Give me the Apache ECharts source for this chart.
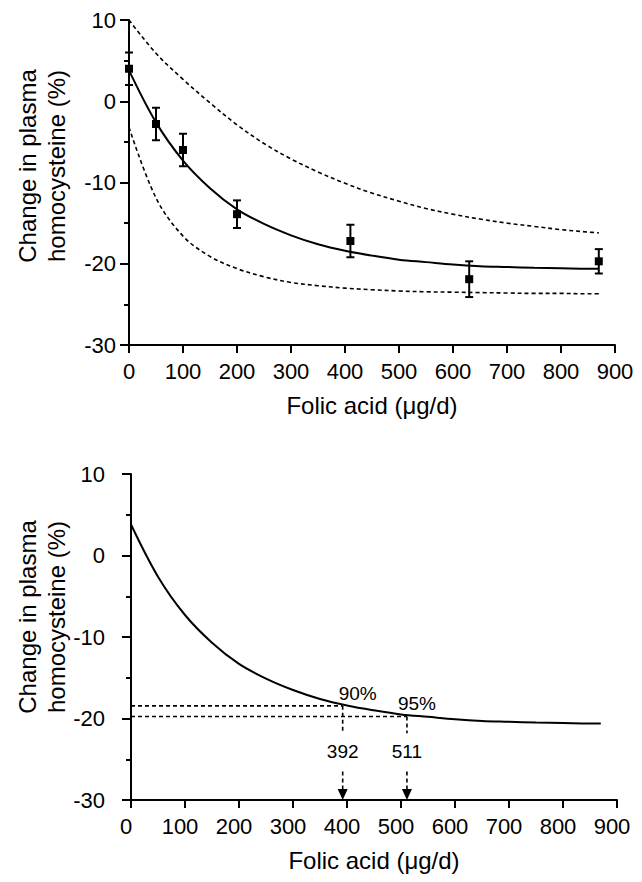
<!DOCTYPE html>
<html>
<head>
<meta charset="utf-8">
<script src="https://cdn.jsdelivr.net/npm/echarts@6/dist/echarts.min.js"></script>
<style>
  html, body { margin: 0; padding: 0; background: #fff; }
  #chart { width: 642px; height: 882px; }
</style>
</head>
<body>
<div id="chart"></div>
<script>
// measured points (top panel): dose, mean change, error
var doses = [0, 50, 100, 200, 410, 630, 870];
var meanChange = [4.0, -2.8, -6.0, -13.9, -17.2, -21.9, -19.7];
var errChange = [2.0, 2.0, 2.0, 1.7, 2.0, 2.2, 1.5];

// fitted curve and its dashed band
var curveDose = [0, 50, 100, 150, 200, 250, 300, 350, 400, 450, 500, 550, 600, 650, 700, 750, 800, 850, 870];
var fitted = [3.8, -2.6, -7.3, -10.7, -13.3, -15.1, -16.5, -17.6, -18.4, -19.0, -19.5, -19.8, -20.1, -20.3, -20.4, -20.5, -20.55, -20.6, -20.6];
var upperBand = [10.0, 5.9, 2.7, -0.2, -2.9, -5.2, -7.1, -8.7, -10.1, -11.3, -12.3, -13.2, -13.9, -14.5, -15.0, -15.4, -15.8, -16.1, -16.2];
var lowerBand = [-3.2, -11.9, -16.6, -19.1, -20.6, -21.6, -22.3, -22.7, -23.0, -23.2, -23.35, -23.45, -23.5, -23.55, -23.6, -23.65, -23.65, -23.7, -23.7];

// bottom panel: 90% / 95% of the maximal effect
var pctLabels = ['90%', '95%'];
var pctDose = [392, 511];
var pctLevel = [-18.45, -19.75];

var FONT = "'Liberation Sans', Arial, Helvetica, sans-serif";

function pairs(xs, ys) {
    return xs.map(function (x, i) { return [x, ys[i]]; });
}

function makeX(idx, labelPad) {
    return {
        type: 'value', gridIndex: idx, min: 0, max: 900, interval: 100,
        axisLine: { show: true, onZero: false, lineStyle: { color: '#000', width: 2 } },
        axisTick: { show: true, length: 8, lineStyle: { color: '#000', width: 2 } },
        axisLabel: { color: '#000', fontSize: 22, fontFamily: FONT, margin: 15, padding: labelPad },
        splitLine: { show: false },
        name: 'Folic acid (μg/d)', nameLocation: 'middle', nameGap: 48,
        nameTextStyle: { color: '#000', fontSize: 24, fontFamily: FONT }
    };
}

function makeY(idx, margin) {
    return {
        type: 'value', gridIndex: idx, min: -30, max: 10, interval: 10,
        axisLine: { show: true, onZero: false, lineStyle: { color: '#000', width: 2 } },
        axisTick: { show: true, length: 9, lineStyle: { color: '#000', width: 2 } },
        minorTick: { show: true, splitNumber: 2, length: 5, lineStyle: { color: '#000', width: 2 } },
        axisLabel: { color: '#000', fontSize: 22, fontFamily: FONT, margin: margin },
        splitLine: { show: false },
        minorSplitLine: { show: false }
    };
}

function dashed(name, data, xi, smooth) {
    return {
        name: name, type: 'line', xAxisIndex: xi, yAxisIndex: xi, data: data,
        showSymbol: false, symbol: 'none', silent: true,
        smooth: smooth ? 0.35 : false,
        lineStyle: { color: '#000', width: 1.6, type: [4, 3] }, z: 2
    };
}

var series = [];

// ---- top panel
series.push({
    name: 'fit', type: 'line', xAxisIndex: 0, yAxisIndex: 0, smooth: 0.35,
    data: pairs(curveDose, fitted), symbol: 'none',
    lineStyle: { color: '#000', width: 2 }, z: 3
});
series.push(dashed('upper', pairs(curveDose, upperBand), 0, true));
series.push(dashed('lower', pairs(curveDose, lowerBand), 0, true));
series.push({
    name: 'error', type: 'custom', xAxisIndex: 0, yAxisIndex: 0,
    data: doses.map(function (d, i) { return [d, meanChange[i], errChange[i]]; }),
    encode: { x: 0, y: 1 },
    renderItem: function (params, api) {
        var x = api.value(0), m = api.value(1), e = api.value(2);
        var top = api.coord([x, m + e]);
        var bot = api.coord([x, m - e]);
        var w = 4;
        var st = { stroke: '#000', lineWidth: 2 };
        return {
            type: 'group', children: [
                { type: 'line', shape: { x1: top[0], y1: top[1], x2: bot[0], y2: bot[1] }, style: st },
                { type: 'line', shape: { x1: top[0] - w, y1: top[1], x2: top[0] + w, y2: top[1] }, style: st },
                { type: 'line', shape: { x1: bot[0] - w, y1: bot[1], x2: bot[0] + w, y2: bot[1] }, style: st }
            ]
        };
    },
    z: 4
});
series.push({
    name: 'mean', type: 'scatter', xAxisIndex: 0, yAxisIndex: 0, clip: false,
    data: pairs(doses, meanChange), symbol: 'rect', symbolSize: 8,
    itemStyle: { color: '#000', opacity: 1 }, z: 5
});

// ---- bottom panel
series.push({
    name: 'fit2', type: 'line', xAxisIndex: 1, yAxisIndex: 1, smooth: 0.35,
    data: pairs(curveDose, fitted), symbol: 'none',
    lineStyle: { color: '#000', width: 2 }, z: 3
});
var gapTop = -21.8, gapBottom = -26.5, arrowTop = -28.8, doseLabelY = -24.1;
pctDose.forEach(function (d, i) {
    series.push(dashed('h' + i, [[0, pctLevel[i]], [d, pctLevel[i]]], 1));
    series.push(dashed('v' + i, [[d, pctLevel[i]], [d, gapTop]], 1));
    series.push(dashed('w' + i, [[d, gapBottom], [d, arrowTop]], 1));
});
series.push({
    name: 'arrows', type: 'scatter', xAxisIndex: 1, yAxisIndex: 1, clip: false,
    data: pctDose.map(function (d) { return [d, -30]; }),
    symbol: 'path://M0,0 L10,0 L5,11 Z', symbolSize: [10, 11], symbolOffset: [0, -5.5],
    itemStyle: { color: '#000', opacity: 1 }, z: 5
});
series.push({
    name: 'doseLabels', type: 'scatter', xAxisIndex: 1, yAxisIndex: 1,
    data: pctDose.map(function (d) { return [d, doseLabelY]; }),
    symbolSize: 0, itemStyle: { opacity: 1 },
    label: {
        show: true, position: 'inside', color: '#000', fontSize: 19, fontFamily: FONT,
        formatter: function (p) { return String(p.value[0]); }
    },
    z: 5
});
series.push({
    name: 'pctLabels', type: 'scatter', xAxisIndex: 1, yAxisIndex: 1,
    data: pctDose.map(function (d, i) {
        return {
            value: [d, pctLevel[i]],
            label: { offset: i === 0 ? [15, 2] : [10, 2] }
        };
    }),
    symbolSize: 0, itemStyle: { opacity: 1 },
    label: {
        show: true, position: 'top', color: '#000', fontSize: 19, fontFamily: FONT,
        formatter: function (p) { return pctLabels[p.dataIndex]; }
    },
    z: 5
});

var chart = echarts.init(document.getElementById('chart'), null, { renderer: 'svg' });
chart.setOption({
    backgroundColor: '#fff',
    animation: false,
    textStyle: { fontFamily: FONT },
    grid: [
        { left: 129, top: 20, width: 486, height: 325 },
        { left: 131, top: 474, width: 486, height: 326 }
    ],
    xAxis: [makeX(0), makeX(1, [0, 10, 0, 0])],
    yAxis: [makeY(0, 13), makeY(1, 26)],
    graphic: [
        {
            type: 'text', x: 42, y: 166, rotation: Math.PI / 2,
            style: {
                text: 'Change in plasma\nhomocysteine (%)', fill: '#000',
                font: '24px ' + FONT, align: 'center', verticalAlign: 'middle', lineHeight: 29
            }
        },
        {
            type: 'text', x: 42, y: 617, rotation: Math.PI / 2,
            style: {
                text: 'Change in plasma\nhomocysteine (%)', fill: '#000',
                font: '24px ' + FONT, align: 'center', verticalAlign: 'middle', lineHeight: 29
            }
        }
    ],
    series: series
});
</script>
</body>
</html>
